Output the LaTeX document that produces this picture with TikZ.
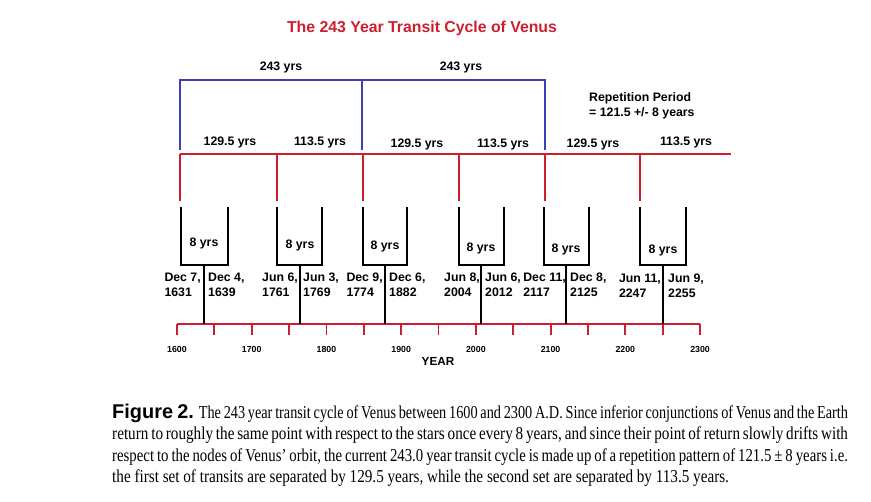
\documentclass[tikz,border=0pt]{standalone}
\usepackage{fontspec}
\setmainfont{Liberation Sans}
\newfontfamily\capfont[FakeStretch=0.835]{Liberation Serif}
\newfontfamily\capfontn[FakeStretch=0.785]{Liberation Serif}
\newfontfamily\capfontm[FakeStretch=0.815]{Liberation Serif}
\definecolor{venred}{RGB}{206,30,46}
\definecolor{venblue}{RGB}{60,64,178}
\newcommand{\capline}[1]{\makebox[628pt][s]{#1}}

\begin{document}
\begin{tikzpicture}[
    x=0.03cm, y=-0.03cm,
    cyc/.style={line width=1.6pt, venblue},
    nod/.style={line width=1.6pt, venred},
    pair/.style={line width=2pt, black},
    lab/.style={font=\fontsize{10.5}{12.8}\selectfont\bfseries, inner sep=0pt},
    dat/.style={lab, align=left},
    yr/.style={font=\fontsize{7.5}{9}\selectfont\bfseries, inner sep=0pt},
  ]
  \useasboundingbox (0,0) rectangle (871,501);

  \node[font=\fontsize{13.5}{16}\selectfont\bfseries, venred] (title) at (422,28)
    {The 243 Year Transit Cycle of Venus};

  % 243 year cycle
  \coordinate (c1) at (180,80);
  \coordinate (c2) at (362,80);
  \coordinate (c3) at (545,80);
  \draw[cyc] (180,150) |- (c1) -- (c2) -- (c3) -- (545,150);
  \draw[cyc] (c2) -- (362,150);
  \node[lab] (cyca) at (281,67) {243 yrs};
  \node[lab] (cycb) at (461,67) {243 yrs};
  \node[dat, anchor=west] (rep) at (589,106) {Repetition Period\\= 121.5 +/- 8 years};

  % node line
  \coordinate (n0) at (180,154);
  \coordinate (n7) at (731,154);
  \draw[nod] (n0) -- (n7);
  \node[lab] (g1) at (230,142) {129.5 yrs};
  \node[lab] (g2) at (320,142) {113.5 yrs};
  \node[lab] (g3) at (417,144) {129.5 yrs};
  \node[lab] (g4) at (503,144) {113.5 yrs};
  \node[lab] (g5) at (593,144) {129.5 yrs};
  \node[lab] (g6) at (686,142) {113.5 yrs};

  % year axis
  \coordinate (a0) at (177,324);
  \coordinate (a1) at (700,324);
  \draw[nod] (a0) -- (a1);
  \foreach \k in {0,...,14}
    \draw[nod] (177+37.36*\k,324) -- ++(0,11);
  \foreach \y [count=\k from 0] in {1600,1700,...,2300}
    \node[yr] (y\y) at (177+74.72*\k,349) {\y};
  \node[lab, font=\fontsize{10}{12}\selectfont\bfseries] (year) at (438,361) {YEAR};

  % transit pairs
  \foreach \nx/\ul/\ur/\sx/\ty [count=\i] in
      {180/181/228/204/243, 277/277/322/300/245, 363/363/407/385/246,
       459/459/504/481/248, 545/544/589/566/249, 640/640/686/663/250} {
    \coordinate (top\i) at (\nx,154);
    \coordinate (drop\i) at (\nx,201);
    \draw[nod] (top\i) -- (drop\i);
    \coordinate (ul\i) at (\ul,207);
    \coordinate (ur\i) at (\ur,207);
    \coordinate (st\i) at (\sx,265);
    \coordinate (ax\i) at (\sx,324);
    \draw[pair] (ul\i) |- (st\i) -| (ur\i);
    \draw[pair] (st\i) -- (ax\i);
    \node[lab] (e\i) at (\sx,\ty) {8 yrs};
  }

  \node[dat, anchor=east] (d1) at (201,285) {Dec 7,\\1631};
  \node[dat, anchor=west] (d2) at (208,285) {Dec 4,\\1639};
  \node[dat, anchor=east] (d3) at (298,285) {Jun 6,\\1761};
  \node[dat, anchor=west] (d4) at (303,285) {Jun 3,\\1769};
  \node[dat, anchor=east] (d5) at (383,285) {Dec 9,\\1774};
  \node[dat, anchor=west] (d6) at (389,285) {Dec 6,\\1882};
  \node[dat, anchor=east] (d7) at (480,285) {Jun 8,\\2004};
  \node[dat, anchor=west] (d8) at (485,285) {Jun 6,\\2012};
  \node[dat, anchor=east] (d9) at (566,285) {Dec 11,\\2117};
  \node[dat, anchor=west] (d10) at (570,285) {Dec 8,\\2125};
  \node[dat, anchor=east] (d11) at (661,286) {Jun 11,\\2247};
  \node[dat, anchor=west] (d12) at (668,286) {Jun 9,\\2255};

  % caption
  \node[anchor=north west, inner sep=0pt, align=left,
        font=\capfont\fontsize{15.5}{18.2}\selectfont] (cap) at (112,404)
    {\capline{\textbf{\fontspec{Liberation Sans}\fontsize{17}{18.2}\selectfont Figure 2.} {\capfontn The 243 year transit cycle of Venus between 1600 and 2300 A.D. Since inferior conjunctions of Venus and the Earth}}\\
     \capline{return to roughly the same point with respect to the stars once every 8 years, and since their point of return slowly drifts with}\\
     \capline{\capfontm respect to the nodes of Venus’ orbit, the current 243.0 year transit cycle is made up of a repetition pattern of 121.5 ± 8 years i.e.}\\
     the first set of transits are separated by 129.5 years, while the second set are separated by 113.5 years.};
\end{tikzpicture}
\end{document}
